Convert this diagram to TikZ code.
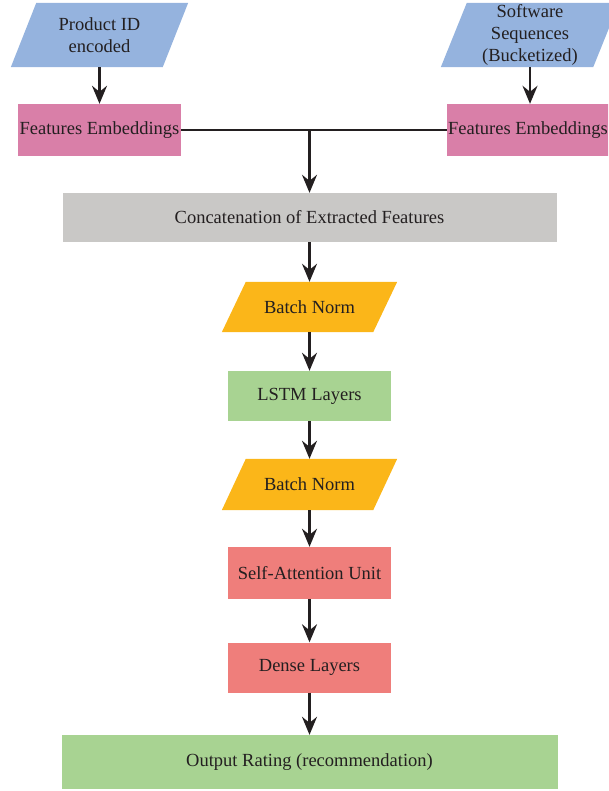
\documentclass[tikz,border=0pt]{standalone}
\usepackage{fontspec}
\setmainfont{Liberation Serif}
\usetikzlibrary{arrows.meta,backgrounds,calc}
\definecolor{cblue}{HTML}{95B3DE}
\definecolor{cpink}{HTML}{D97FA8}
\definecolor{cgray}{HTML}{C9C8C6}
\definecolor{corange}{HTML}{FBB619}
\definecolor{cgreen}{HTML}{A8D392}
\definecolor{cred}{HTML}{EF7E7B}
\definecolor{cink}{HTML}{231F20}
\begin{document}
\begin{tikzpicture}[x=1pt,y=-1pt,
  font=\fontsize{18.5}{22}\selectfont, text=cink,
  blk/.style={rectangle, inner sep=0pt, align=center},
  arr/.style={draw=cink, line width=2.2pt, -{Stealth[length=18pt,width=15pt,inset=6pt]}},
  lnk/.style={draw=cink, line width=2.2pt}]
\useasboundingbox (0,0) rectangle (608,791);
\clip (0,0) rectangle (608,791);

\node[blk, minimum width=177pt, minimum height=64pt] (pid) at (99.5,35) {Product ID\\encoded};
\node[blk, minimum width=178pt, minimum height=64pt] (sw) at (530,35) {Software\\Sequences\\(Bucketized)};
\node[blk, fill=cpink, minimum width=163pt, minimum height=52pt] (fe1) at (99.5,130) {Features Embeddings};
\node[blk, fill=cpink, minimum width=166pt, minimum height=52pt] (fe2) at (530,130) {};
\node[blk] (fe2t) at (528,130) {Features Embeddings};
\node[blk, fill=cgray, minimum width=494pt, minimum height=49pt] (cat) at (309.5,217.5) {Concatenation of Extracted Features};
\node[blk, minimum width=175pt, minimum height=50pt] (bn1) at (309.5,307) {Batch Norm};
\node[blk, fill=cgreen, minimum width=163pt, minimum height=50pt] (lstm) at (309.5,396) {LSTM Layers};
\node[blk, minimum width=175pt, minimum height=51pt] (bn2) at (309.5,484.5) {Batch Norm};
\node[blk, fill=cred, minimum width=163pt, minimum height=52pt] (att) at (309.5,573) {Self-Attention Unit};
\node[blk, fill=cred, minimum width=163pt, minimum height=50pt] (dense) at (309.5,667.5) {Dense Layers};
\node[blk, fill=cgreen, minimum width=496pt, minimum height=54pt] (out) at (309.5,762) {Output Rating (recommendation)};

\begin{scope}[on background layer]
\foreach \n/\c/\s in {pid/cblue/25.5, sw/cblue/26, bn1/corange/24, bn2/corange/24} {
  \fill[\c] (\n.south west) -- ($(\n.south east)-(\s,0)$) -- (\n.north east) -- ($(\n.north west)+(\s,0)$) -- cycle;
}
\end{scope}

\coordinate (j) at (cat.north |- fe1.east);
\draw[arr] (pid) -- (fe1);
\draw[arr] (sw) -- (fe2);
\draw[lnk] (fe1.east) -- (fe2.west);
\draw[arr] (j) -- (cat.north);
\draw[arr] (cat) -- (bn1);
\draw[arr] (bn1) -- (lstm);
\draw[arr] (lstm) -- (bn2);
\draw[arr] (bn2) -- (att);
\draw[arr] (att) -- (dense);
\draw[arr] (dense) -- (out);
\end{tikzpicture}
\end{document}
